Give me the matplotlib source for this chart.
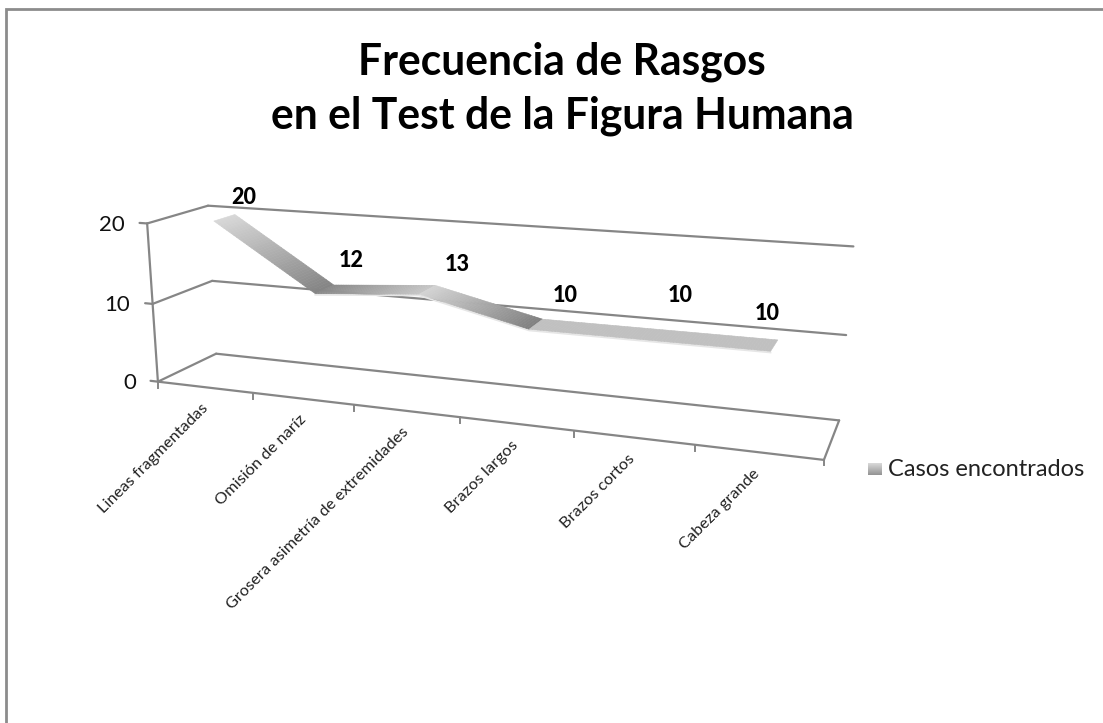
import numpy as np
import matplotlib
matplotlib.use("Agg")
import matplotlib.pyplot as plt
from matplotlib.collections import PolyCollection

plt.rcParams['font.family'] = ['Lato', 'DejaVu Sans']

# --- data ---
categories = ["Lineas fragmentadas", "Omisión de naríz", "Grosera asimetría de extremidades",
              "Brazos largos", "Brazos cortos", "Cabeza grande"]
casos = [20, 12, 13, 10, 10, 10]
y_ticks = [0, 10, 20]
series_name = "Casos encontrados"
title = "Frecuencia de Rasgos\nen el Test de la Figura Humana"

# --- oblique 3D scale: (category, value, depth) -> pixel, fitted on the chart box corners ---
n = len(categories)
anchors_3d = np.array([[0, 0, 0], [0, 10, 0], [0, 20, 0], [0, 0, 1], [0, 10, 1], [0, 20, 1],
                       [6, 0, 1], [6, 10, 1], [6, 20, 1], [6, 0, 0],
                       [1, 0, 0], [2, 0, 0], [3, 0, 0], [4, 0, 0], [5, 0, 0]], float)
anchors_px = np.array([[158, 381], [153, 303], [147, 223], [216, 354], [212, 281], [208, 206],
                       [839, 419], [847, 335], [853, 247], [824, 459],
                       [253, 393], [354, 405], [460, 418], [573, 432], [695, 445]], float)
rows, rhs = [], []
for (c, v, d), (u, w) in zip(anchors_3d, anchors_px):
    rows.append([c, v, d, 1, 0, 0, 0, 0, -u * c, -u * v, -u * d]); rhs.append(u)
    rows.append([0, 0, 0, 0, c, v, d, 1, -w * c, -w * v, -w * d]); rhs.append(w)
P = np.linalg.lstsq(np.array(rows), np.array(rhs), rcond=None)[0]
P = np.append(P, 1).reshape(3, 4)


def proj(c, v, d):
    h = P @ np.array([c, v, d, 1.0])
    return h[0] / h[2], h[1] / h[2]


GRID = '#868686'
fig = plt.figure(figsize=(11.03, 7.23), dpi=100, facecolor='white')
ax = fig.add_axes([0, 0, 1, 1])
ax.set_xlim(0, 1103)
ax.set_ylim(723, 0)
ax.axis('off')

# outer chart border (top and left only are in frame)
ax.plot([6, 6, 1103], [723, 9, 9], color='#8c8c8c', lw=2, solid_joinstyle='miter')


def line3(a, b, **kw):
    p, q = proj(*a), proj(*b)
    ax.plot([p[0], q[0]], [p[1], q[1]], color=GRID, lw=1.6, solid_capstyle='round', **kw)


# walls and gridlines
for v in y_ticks:
    line3((0, v, 0), (0, v, 1))
    line3((0, v, 1), (n, v, 1))
    t = proj(-0.12, v, 0)
    ax.text(t[0] - 11, t[1] + 2.5, str(v), ha='right', va='center', fontsize=16, color='#111111')
    line3((-0.08, v, 0), (0, v, 0))
line3((0, 0, 0), (0, 20, 0))
line3((0, 0, 0), (n, 0, 0))
line3((n, 0, 0), (n, 0, 1))

# category ticks and labels
for i, name in enumerate(categories):
    p = proj(i, 0, 0)
    ax.plot([p[0], p[0]], [p[1], p[1] + 6], color=GRID, lw=1.4)
    q = proj(i + 1, 0, 0)
    ax.text((p[0] + q[0]) / 2 - 4 - 0.6 * i, (p[1] + q[1]) / 2 + 14, name, rotation=45, ha='right', va='top',
            rotation_mode='anchor', fontsize=11.8, color='#222222')
p = proj(n, 0, 0)
ax.plot([p[0], p[0]], [p[1], p[1] + 5], color=GRID, lw=1.4)

# ribbon, shaded along each segment
shades = [(0xd8, 0x84), (0x88, 0xc6), (0xd4, 0x80), (0xc0, 0xc0), (0xc0, 0xc0)]
D0, D1 = 0.30, 0.66
polys, cols = [], []
for i in range(n - 1):
    for k in range(40):
        a, b = k / 40, (k + 1) / 40
        ca, cb = i + 0.5 + a, i + 0.5 + b
        va = casos[i] + a * (casos[i + 1] - casos[i])
        vb = casos[i] + b * (casos[i + 1] - casos[i])
        polys.append([proj(ca, va, D0), proj(cb, vb, D0), proj(cb, vb, D1), proj(ca, va, D1)])
        g = (shades[i][0] + (a + b) / 2 * (shades[i][1] - shades[i][0])) / 255
        cols.append((g, g, g))
ax.add_collection(PolyCollection(polys, facecolors=cols, edgecolors=cols, linewidths=0.4, zorder=3))
edge = [proj(i + 0.5, casos[i], D0) for i in range(1, n)]
ax.plot([e[0] for e in edge], [e[1] + 1.2 for e in edge], color='#e6e6e6', lw=1.2, zorder=2.9)

# data labels (offsets from the ribbon, as placed in the reference)
offs = [(9, -17), (17, -25), (22, -21), (22, -24), (24, -34), (-11, -26)]
for i, v in enumerate(casos):
    x, y = proj(i + 0.5, v, D1)
    ax.text(x + offs[i][0], y + offs[i][1], str(v), ha='center', va='center',
            fontsize=15.5, fontweight=900, color='black', zorder=4)

# legend
key = np.linspace(0.85, 0.58, 20).reshape(-1, 1)
ax.imshow(key, extent=(868, 882, 475, 463), cmap='gray', vmin=0, vmax=1, aspect='auto', zorder=3)
ax.set_xlim(0, 1103)
ax.set_ylim(723, 0)
ax.text(888, 469, series_name, ha='left', va='center', fontsize=17, color='#222222')

# title
ax.text(562, 89, title, ha='center', va='center', fontsize=30.7, fontweight='bold', color='black',
        linespacing=1.42)

fig.savefig('out.png', dpi=100, facecolor='white')
